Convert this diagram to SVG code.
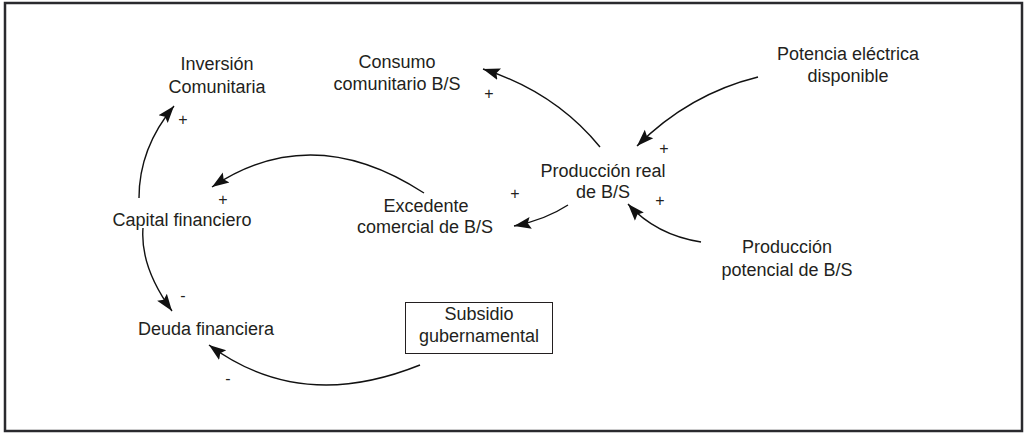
<svg xmlns="http://www.w3.org/2000/svg" width="1026" height="434" viewBox="0 0 1026 434">
<style>
.t{font-family:"Liberation Sans",Arial,sans-serif;font-size:18px;fill:#231f20;text-anchor:middle}
.s{font-family:"Liberation Sans",Arial,sans-serif;font-size:16px;fill:#231f20;text-anchor:middle}
.c{fill:none;stroke:#111;stroke-width:1.4;marker-end:url(#ah)}
</style>
<defs>
<marker id="ah" markerUnits="userSpaceOnUse" markerWidth="20" markerHeight="14" refX="17" refY="6" orient="auto" viewBox="0 0 20 12">
<path d="M0,0 L17,6 L0,12 L3,6 Z" fill="#111"/>
</marker>
</defs>
<rect x="5" y="3" width="1017" height="428" fill="#fff" stroke="#2a2a2e" stroke-width="2.5"/>
<g id="connectors">
<path class="c" d="M139,198 Q139,148 174,106"/>
<path class="c" d="M424,193 Q312,120 212,187"/>
<path class="c" d="M600,147 Q555,92 483,69"/>
<path class="c" d="M758,77 Q689,94 637,146"/>
<path class="c" d="M568,205 Q545,220 514,226"/>
<path class="c" d="M701,242 Q656,235 628,204"/>
<path class="c" d="M143,228 Q140,267 172,311"/>
<path class="c" d="M420,365 C370,385 290,405 209,345"/>
</g>
<g id="signs">
<text class="s" x="183" y="125">+</text>
<text class="s" x="223" y="205">+</text>
<text class="s" x="489" y="99">+</text>
<text class="s" x="664" y="154">+</text>
<text class="s" x="515" y="199">+</text>
<text class="s" x="660" y="206">+</text>
<text class="s" x="183" y="301">-</text>
<text class="s" x="228" y="384">-</text>
</g>
<g id="inversion"><text class="t" x="217" y="70">Inversión</text><text class="t" x="217" y="93">Comunitaria</text></g>
<g id="consumo"><text class="t" x="397" y="68">Consumo</text><text class="t" x="397" y="90">comunitario B/S</text></g>
<g id="potencia"><text class="t" x="848" y="60">Potencia eléctrica</text><text class="t" x="848" y="82">disponible</text></g>
<g id="produccion-real"><text class="t" x="603" y="177">Producción real</text><text class="t" x="603" y="198">de B/S</text></g>
<g id="excedente"><text class="t" x="426" y="212">Excedente</text><text class="t" x="425" y="233">comercial de B/S</text></g>
<g id="capital"><text class="t" x="182" y="226">Capital financiero</text></g>
<g id="deuda"><text class="t" x="206" y="335">Deuda financiera</text></g>
<g id="subsidio"><rect x="405.5" y="302.5" width="147" height="51" fill="#fff" stroke="#231f20" stroke-width="1"/><text class="t" x="479" y="320">Subsidio</text><text class="t" x="479" y="342">gubernamental</text></g>
<g id="produccion-potencial"><text class="t" x="787" y="253">Producción</text><text class="t" x="787" y="276">potencial de B/S</text></g>
</svg>
